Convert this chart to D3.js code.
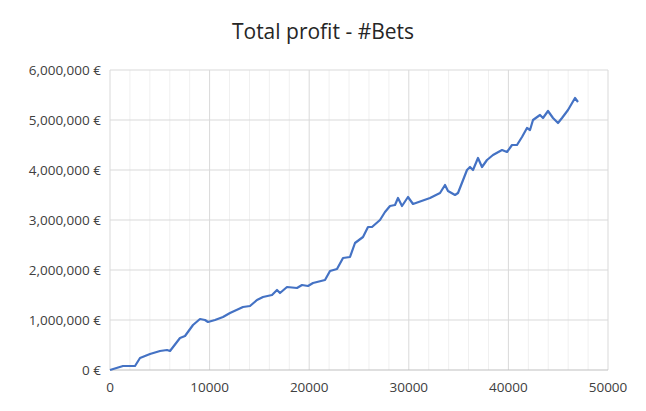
<!DOCTYPE html><html><head><meta charset="utf-8"><script src="https://cdn.jsdelivr.net/npm/d3@7"></script>
<style>body{margin:0;background:#fff}</style></head><body><svg id="c" width="646" height="411"></svg>
<script>
const bets=[0,1305,2510,3012,4016,5020,5723,6024,7028,7530,8333,9036,9538,9839,10542,11345,12048,13353,14056,14759,15361,16265,16767,17068,17771,18775,19277,19880,20382,21586,22088,22791,23394,24096,24598,25402,25904,26305,27108,27610,28112,28614,28916,29317,29920,30422,32129,33133,33635,33936,34639,34940,35843,36145,36446,36948,37349,37851,38454,39357,39859,40361,40863,41365,41867,42169,42470,43173,43474,43976,44478,44980,45382,45984,46687,46988];
const profitK=[0,80,80,240,320,380,400,380,640,680,900,1020,1000,960,1000,1060,1140,1260,1280,1400,1460,1500,1600,1540,1660,1640,1700,1680,1740,1800,1980,2020,2240,2260,2540,2660,2860,2860,3000,3160,3280,3300,3440,3280,3460,3320,3440,3540,3700,3580,3500,3540,4000,4060,4000,4240,4060,4200,4300,4400,4360,4500,4500,4660,4840,4800,5000,5100,5040,5180,5040,4940,5040,5200,5440,5360];
const xTicks=[0,10000,20000,30000,40000,50000];
const yTicks=[0,1000000,2000000,3000000,4000000,5000000,6000000];
const title="Total profit - #Bets";
const svg=d3.select("#c"),F="'Open Sans',Calibri,sans-serif";
const x=d3.scaleLinear([0,50000],[110,608]),y=d3.scaleLinear([0,6000000],[370,70]);
svg.append("g").selectAll("line").data(d3.range(0,50001,2000).filter(v=>v%10000)).join("line")
 .attr("x1",d=>x(d)).attr("x2",d=>x(d)).attr("y1",70).attr("y2",370).attr("stroke","#f0f0f0");
svg.append("g").selectAll("line").data(xTicks.slice(1)).join("line")
 .attr("x1",d=>x(d)).attr("x2",d=>x(d)).attr("y1",70).attr("y2",370).attr("stroke","#d9d9d9");
svg.append("g").selectAll("line").data(yTicks.slice(1)).join("line")
 .attr("x1",110).attr("x2",608).attr("y1",d=>y(d)).attr("y2",d=>y(d)).attr("stroke","#d9d9d9");
svg.append("line").attr("x1",110).attr("x2",110).attr("y1",70).attr("y2",370).attr("stroke","#d9d9d9");
svg.append("line").attr("x1",110).attr("x2",608).attr("y1",370).attr("y2",370).attr("stroke","#bfbfbf");
const fmt=d3.format(",");
svg.append("g").selectAll("text").data(yTicks).join("text").attr("x",101).attr("y",d=>y(d)+5)
 .attr("text-anchor","end").attr("font-family",F).attr("font-size",13.5).attr("fill","#404040").text(d=>fmt(d)+" €");
svg.append("g").selectAll("text").data(xTicks).join("text").attr("x",d=>x(d)).attr("y",392)
 .attr("text-anchor","middle").attr("font-family",F).attr("font-size",13.5).attr("fill","#404040").text(d=>d);
svg.append("text").attr("x",323).attr("y",39).attr("text-anchor","middle").attr("font-family",F).attr("font-size",21).attr("fill","#262626").text(title);
svg.append("path").datum(bets.map((b,i)=>[b,profitK[i]*1000])).attr("fill","none").attr("stroke","#4472C4").attr("stroke-width",2.2)
 .attr("stroke-linejoin","round").attr("d",d3.line().x(d=>x(d[0])).y(d=>y(d[1])));
</script></body></html>
